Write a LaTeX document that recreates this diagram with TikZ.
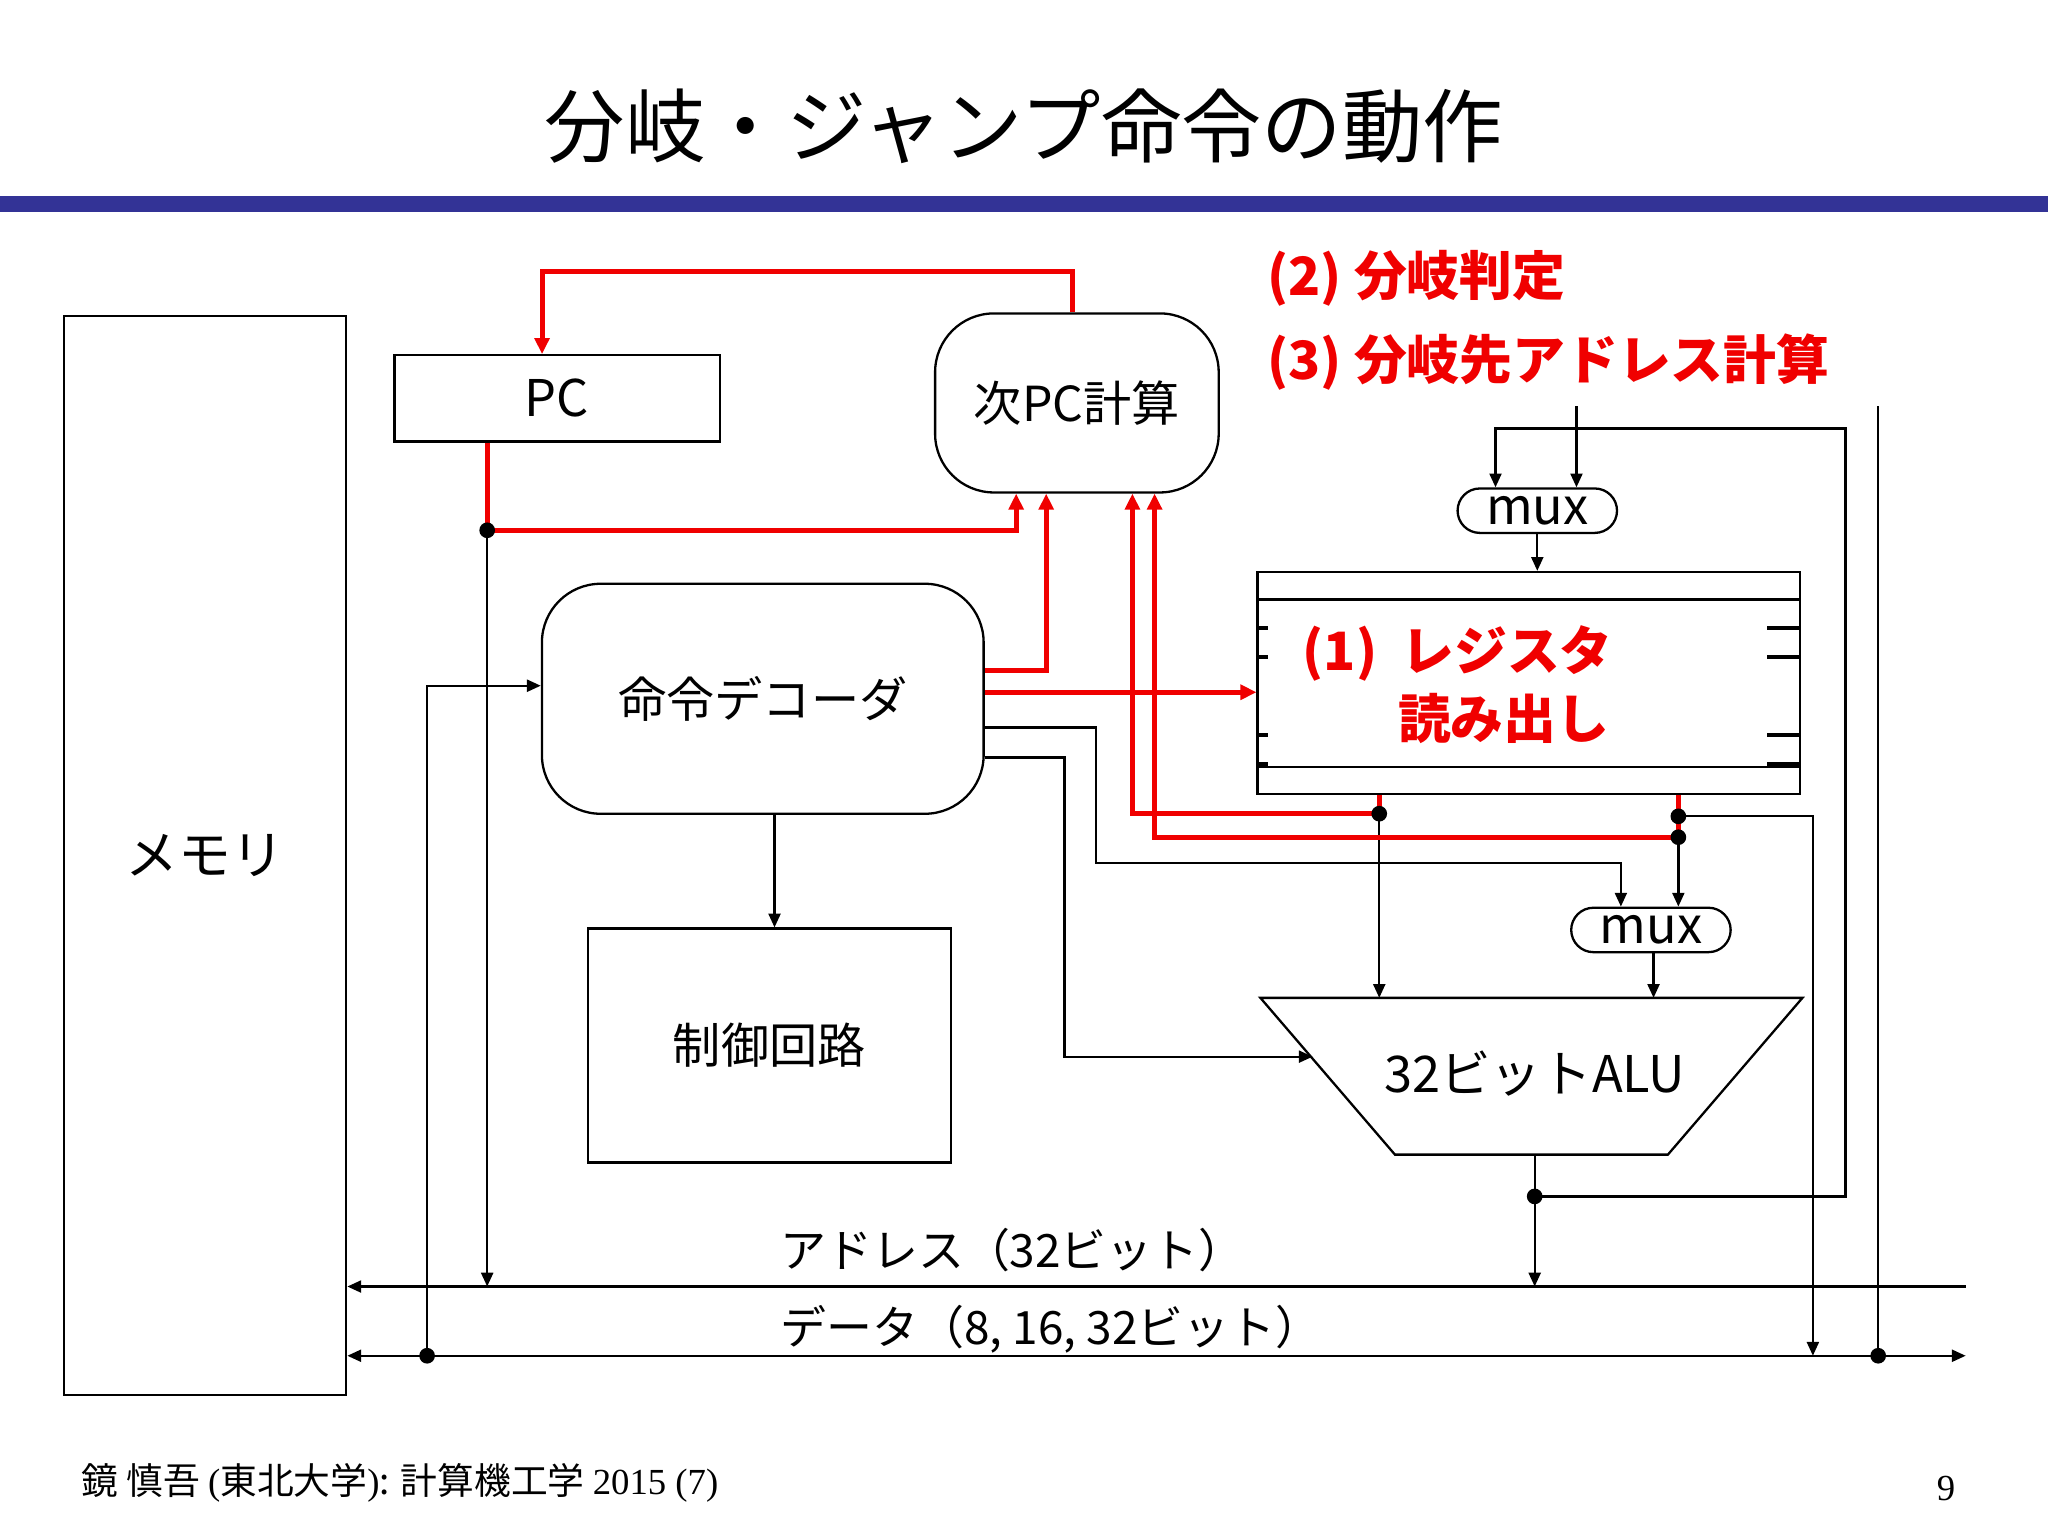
\documentclass[tikz,border=0pt]{standalone}
\usepackage{fontspec}
\setmainfont{Noto Sans CJK JP}
\newfontfamily\serif{Liberation Serif}
\usetikzlibrary{arrows.meta}
\definecolor{barblue}{RGB}{51,51,150}
\definecolor{hl}{RGB}{240,0,0}
\tikzset{
  box/.style={draw,line width=0.5pt,inner sep=0pt,font=\fontsize{10.5}{12}\selectfont},
  rbox/.style={box,rounded corners=0.45cm},
  mux/.style={draw,line width=0.5pt,rounded corners=0.17cm,minimum width=1.22cm,minimum height=0.34cm,inner sep=0pt,font=\fontsize{11}{11}\selectfont},
  sig/.style={line width=0.5pt,-{Triangle[length=3pt,width=2.6pt]}},
  wire/.style={line width=0.5pt},
  tick/.style={line width=0.9pt},
  red/.style={hl,line width=1.1pt,-{Triangle[length=3.5pt,width=3.2pt]}},
  redw/.style={hl,line width=1.1pt},
  dot/.style={circle,fill,inner sep=0pt,minimum size=0.12cm},
  note/.style={text=hl,font=\bfseries\fontsize{11.5}{14}\selectfont},
}
\begin{document}
\begin{tikzpicture}[x=0.01cm,y=-0.01cm]
\useasboundingbox (0,0) rectangle (1568,1176);
% title
\node (title) at (784,97) {\fontsize{17.5}{20}\selectfont 分岐・ジャンプ命令の動作};
\fill[barblue] (0,150) rectangle (1568,162);

% boxes
\node[box,minimum width=2.16cm,minimum height=8.26cm] (mem) at (157,655) {\fontsize{11.5}{12}\selectfont メモリ};
\node[box,minimum width=2.49cm,minimum height=0.66cm] (pc) at (426.5,305) {\fontsize{11}{12}\selectfont PC};
\node[rbox,minimum width=2.17cm,minimum height=1.37cm] (npc) at (824.5,308.5) {次PC計算};
\node[rbox,minimum width=3.38cm,minimum height=1.76cm] (dec) at (584,535) {命令デコーダ};
\node[box,minimum width=2.78cm,minimum height=1.79cm] (ctl) at (589,800.5) {制御回路};
\node[mux] (muxa) at (1177,391) {mux};
\node[mux] (muxb) at (1264,712) {mux};

% register file
\node[box,minimum width=4.15cm,minimum height=1.70cm] (reg) at (1170.5,523) {};
\draw[wire] (963,459) -- (1378,459) (963,587) -- (1378,587);
\foreach \y in {481,503,563,585}{
  \draw[tick] (963,\y) -- +(8,0);
  \draw[tick] (1378,\y) -- +(-25,0);
}
\node[note,anchor=west] (rt1) at (985,500) {(1)\ \ レジスタ};
\node[note,anchor=west] (rt2) at (1058,550) {読み出し};

% ALU
\draw[line width=0.5pt] (965,764) -- (1380,764) -- (1277,884) -- (1068,884) -- cycle;
\node (alu) at (1175,822) {\fontsize{11}{12}\selectfont 32ビットALU};
\coordinate (alutop) at (1175,764);
\coordinate (alubot) at (1175,884);

% notes
\node[note,anchor=west] (n2) at (958,213) {(2) 分岐判定};
\node[note,anchor=west] (n3) at (958,277) {(3) 分岐先アドレス計算};

% buses
\coordinate (abE) at (1505,985);
\coordinate (abW) at (mem.east |- abE);
\coordinate (dbE) at (1505,1038);
\coordinate (dbW) at (mem.east |- dbE);
\draw[sig] (abE) -- (abW);
\draw[line width=0.5pt,{Triangle[length=3pt,width=2.6pt]}-{Triangle[length=3pt,width=2.6pt]}] (dbW) -- (dbE);
\node[anchor=west,font=\fontsize{10}{12}\selectfont] (abl) at (585,957) {アドレス（32ビット）};
\node[anchor=west,font=\fontsize{10}{12}\selectfont] (dbl) at (585,1018) {データ（8, 16, 32ビット）};

% junctions
\coordinate (pcj) at (373,406);
\coordinate (dj) at (327,1038);
\coordinate (r1) at (1056,623);
\coordinate (r2) at (1285,641);
\coordinate (r3) at (1285,625);
\coordinate (aj) at (1175,916);
\coordinate (vj) at (1438,1038);

% black wires
\draw[sig] (pc.south -| pcj) -- (pcj |- abE);
\draw[sig] (dj) |- (dec.west |- 0,525);
\draw[sig] (dec.south -| 593,0) -- (ctl.north -| 593,0);
\draw[sig] (dec.east |- 0,557) -| (839,661) -| (muxb.north -| 1241,0);
\draw[sig] (dec.east |- 0,580) -| (815,809) -- (1005,809);
\draw[sig] (r1) -- (r1 |- alutop);
\draw[sig] (r2) -- (r2 |- muxb.north);
\draw[sig] (muxb.south -| 1266,0) -- (1266,764);
\draw[sig] (r3) -| (1388,1038);
\draw[sig] (alubot) -- (alubot |- abE);
\draw[sig] (aj) -| (1413,328) -| (muxa.north -| 1145,0);
\draw[sig] (1207,311) -- (muxa.north -| 1207,0);
\draw[sig] (muxa.south) -- (reg.north -| muxa.south);
\draw[wire] (1438,311) -- (vj);

% red paths
\draw[red] (pc.south -| pcj) -- (pcj) -| (npc.south -| 778,0);
\draw[red] (dec.east |- 0,513) -| (npc.south -| 801,0);
\draw[red] (npc.north -| 821,0) -- (821,208) -| (pc.north -| 415,0);
\draw[red] (dec.east |- 0,530) -- (reg.west |- 0,530);
\draw[red] (reg.south -| r1) -- (r1) -| (npc.south -| 867,0);
\draw[red] (reg.south -| r2) -- (r2) -| (npc.south -| 884,0);

% dots
\foreach \p in {pcj,dj,r1,r2,r3,aj,vj} \node[dot] at (\p) {};

% footer
\node[anchor=west,font=\fontsize{8}{9}\selectfont] (foot) at (50,1135) {鏡 慎吾 {\serif(}東北大学{\serif)}: 計算機工学 {\serif 2015 (7)}};
\node[font=\serif\fontsize{8}{9}\selectfont] (pg) at (1490,1140) {9};
\end{tikzpicture}
\end{document}
